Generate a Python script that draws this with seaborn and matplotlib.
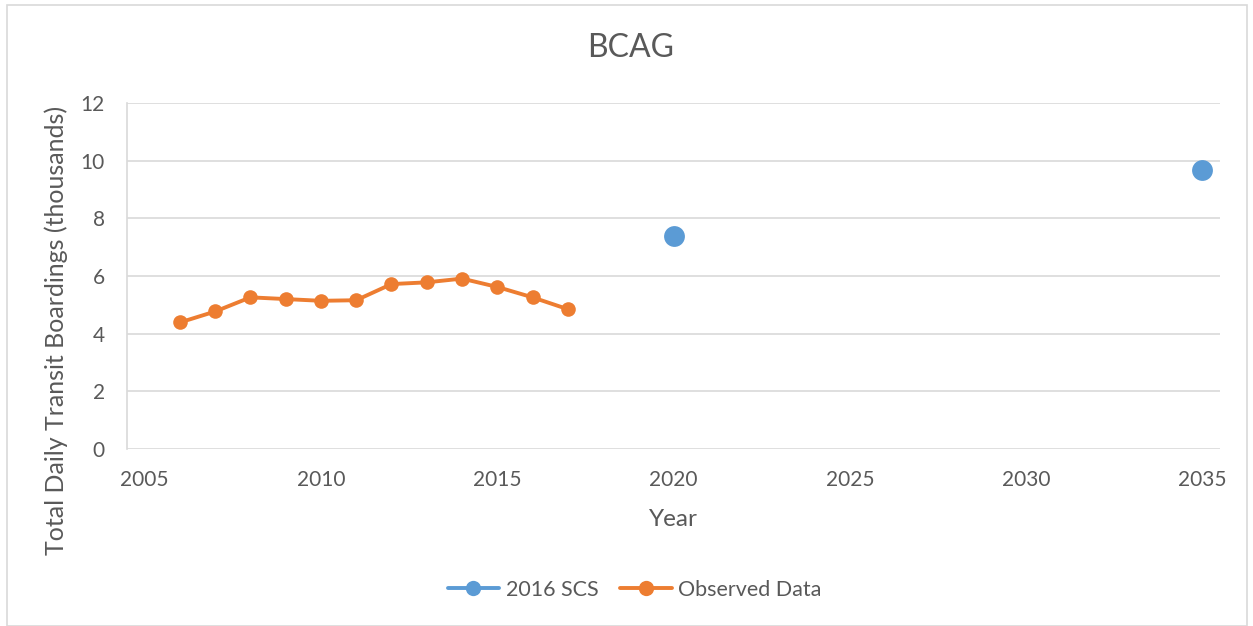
import matplotlib
matplotlib.use("Agg")
import matplotlib.pyplot as plt
import pandas as pd
import seaborn as sns
from matplotlib.lines import Line2D
from matplotlib.patches import Rectangle

# data
obs_years = [2006, 2007, 2008, 2009, 2010, 2011, 2012, 2013, 2014, 2015, 2016, 2017]
obs_values = [4.39, 4.77, 5.26, 5.20, 5.14, 5.16, 5.72, 5.78, 5.91, 5.62, 5.26, 4.85]
scs_years = [2020, 2035]
scs_values = [7.37, 9.69]
x_ticks = [2005, 2010, 2015, 2020, 2025, 2030, 2035]
y_ticks = [0, 2, 4, 6, 8, 10, 12]

orange = "#ED7D31"
blue = "#5B9BD5"
text_col = "#595959"
grid_col = "#D9D9D9"

sns.set_theme(style="white")
plt.rcParams['font.family'] = ['Lato', 'DejaVu Sans']

obs = pd.DataFrame({"year": obs_years, "value": obs_values})
scs = pd.DataFrame({"year": scs_years, "value": scs_values})

fig = plt.figure(figsize=(12.53, 6.26), dpi=100)
ax = fig.add_axes([0.1014, 0.2827, 0.8723, 0.5528])

sns.lineplot(data=obs, x="year", y="value", ax=ax, color=orange, linewidth=2.8,
             marker="o", markersize=10.5, markeredgewidth=0, legend=False)
sns.scatterplot(data=scs, x="year", y="value", ax=ax, color=blue, s=15 ** 2,
                linewidth=0, legend=False)

ax.set_xlim(2004.5, 2035.5)
ax.set_ylim(0, 12)
ax.set_xticks(x_ticks)
ax.set_yticks(y_ticks)
ax.yaxis.grid(True, color=grid_col, linewidth=1.2)
ax.set_axisbelow(True)
for s in ["top", "right", "bottom"]:
    ax.spines[s].set_visible(False)
ax.spines["left"].set_color(grid_col)
ax.spines["left"].set_linewidth(1.2)
ax.tick_params(axis="both", length=0, labelsize=15, colors=text_col)
ax.tick_params(axis="x", pad=15)
ax.tick_params(axis="y", pad=16)

ax.set_xlabel("Year", fontsize=17.5, color=text_col, labelpad=14)
ax.set_ylabel("Total Daily Transit Boardings (thousands)", fontsize=18, color=text_col)
ax.yaxis.set_label_coords(-0.054, 0.344)
fig.text(0.503, 0.923, "BCAG", ha="center", va="center", fontsize=23, color=text_col)

handles = [
    Line2D([], [], color=blue, linewidth=2.8, marker="o", markersize=11, markeredgewidth=0),
    Line2D([], [], color=orange, linewidth=2.8, marker="o", markersize=11, markeredgewidth=0),
]
fig.legend(handles, ["2016 SCS", "Observed Data"], loc="center", bbox_to_anchor=(0.5064, 0.058),
           ncol=2, frameon=False, fontsize=15.5, labelcolor=text_col, handlelength=2.4,
           columnspacing=1.0, handletextpad=0.3)

# outer chart border
fig.patches.append(Rectangle((0.0056, 0.0), 0.99, 0.992, transform=fig.transFigure,
                             fill=False, edgecolor=grid_col, linewidth=1.2))

fig.savefig("out.png", dpi=100)
